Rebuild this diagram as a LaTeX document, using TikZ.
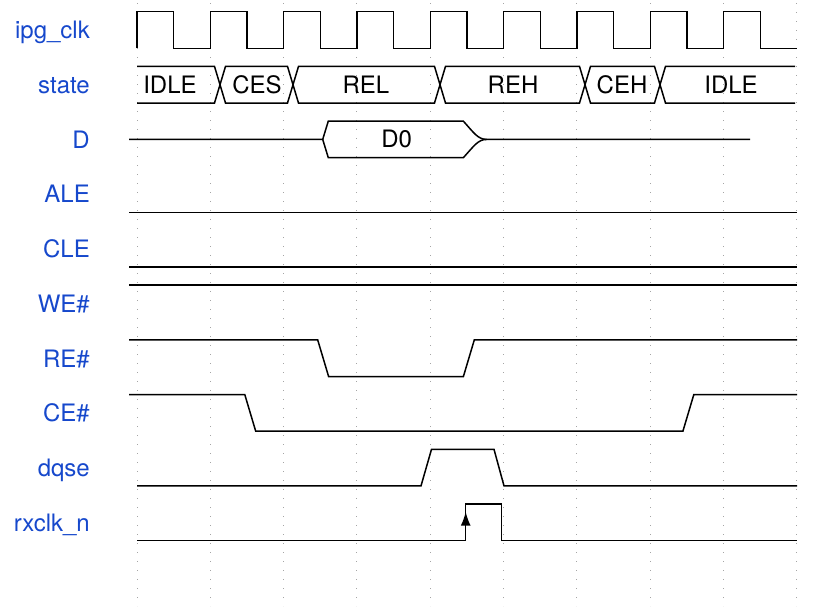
\documentclass[tikz,border=0pt]{standalone}
\usepackage{fontspec}
\newfontfamily\sigfont{TeX Gyre Heros}
\usetikzlibrary{positioning,arrows.meta}
\definecolor{sigblue}{RGB}{22,72,204}
\definecolor{gridgray}{RGB}{165,165,165}
\tikzset{
  lbl/.style={text=sigblue, font=\sigfont\fontsize{24}{27}\selectfont,
              inner sep=0pt, anchor=base east},
  nextrow/.style={lbl, below=54.7pt of #1.base east, anchor=base east},
  bustext/.style={font=\sigfont\fontsize{24}{27}\selectfont, inner sep=0pt},
  wave/.style={black, line width=1.5pt, line join=miter},
  gridln/.style={gridgray, line width=1pt, dash pattern=on 1.2pt off 7.8pt},
  clkarrow/.style={wave, -{Latex[length=14pt,width=10pt]}}
}
\begin{document}
\begin{tikzpicture}[x=1pt,y=-1pt]
  \useasboundingbox (0,0) rectangle (814,611);
  \foreach \k in {0,...,9} \draw[gridln] ({137+73.33*\k},3) -- ++(0,603);
  \node[lbl] (clk) at (90,38.8) {ipg\_clk};
  \node[nextrow=clk] (state) {state};
  \node[nextrow=state] (d) {D};
  \node[nextrow=d] (ale) {ALE};
  \node[nextrow=ale] (cle) {CLE};
  \node[nextrow=cle] (we) {WE\#};
  \node[nextrow=we] (re) {RE\#};
  \node[nextrow=re] (ce) {CE\#};
  \node[nextrow=ce] (dqse) {dqse};
  \node[nextrow=dqse] (rxclk) {rxclk\_n};
  \draw[wave] (137,48.3) \foreach \k in {0,...,8}{ -- ++(0,-36.6) -- ++(36.67,0) -- ++(0,36.6) -- ++(36.67,0)};
  \draw[wave] (137,66.4) -- (214.5,66.4) -- (220,84.7) -- (225.5,66.4) -- (287.5,66.4) -- (293,84.7) -- (298.5,66.4)
    -- (434.5,66.4) -- (440,84.7) -- (445.5,66.4) -- (579.5,66.4) -- (585,84.7) -- (590.5,66.4)
    -- (654.5,66.4) -- (660,84.7) -- (665.5,66.4) -- (795,66.4);
  \draw[wave] (137,103) -- (214.5,103) -- (220,84.7) -- (225.5,103) -- (287.5,103) -- (293,84.7) -- (298.5,103)
    -- (434.5,103) -- (440,84.7) -- (445.5,103) -- (579.5,103) -- (585,84.7) -- (590.5,103)
    -- (654.5,103) -- (660,84.7) -- (665.5,103) -- (795,103);
  \node[bustext] (s-idle) at (170,84.7) {IDLE};
  \node[bustext] (s-ces) at (257,84.7) {CES};
  \node[bustext] (s-rel) at (366,84.7) {REL};
  \node[bustext] (s-reh) at (513,84.7) {REH};
  \node[bustext] (s-ceh) at (622,84.7) {CEH};
  \node[bustext] (s-idle2) at (731,84.7) {IDLE};
  \draw[wave] (129,139.4) -- (322.7,139.4) -- (328.3,121.1) -- (463.3,121.1)
    .. controls (474,133) and (478,139.4) .. (486.7,139.4) -- (750,139.4);
  \draw[wave] (322.7,139.4) -- (328.3,157.7) -- (463.3,157.7)
    .. controls (474,146) and (478,139.4) .. (486.7,139.4);
  \node[bustext] (d0) at (396.7,139.4) {D0};
  \draw[wave] (129,212.4) -- (797,212.4);
  \draw[wave] (129,267.1) -- (797,267.1);
  \draw[wave] (129,285.2) -- (797,285.2);
  \draw[wave] (129,339.9) -- (317.7,339.9) -- (328.6,376.5) -- (463.4,376.5) -- (474.3,339.9) -- (797,339.9);
  \draw[wave] (129,394.6) -- (244.8,394.6) -- (255.7,431.2) -- (682.9,431.2) -- (693.8,394.6) -- (797,394.6);
  \draw[wave] (137,485.9) -- (421,485.9) -- (431.5,449.3) -- (494,449.3) -- (504,485.9) -- (797,485.9);
  \draw[wave] (137,540.6) -- (465.7,540.6) -- (465.7,504) -- (501.7,504) -- (501.7,540.6) -- (797,540.6);
  \draw[clkarrow] (465.7,540.6) -- (465.7,511.7);
\end{tikzpicture}
\end{document}
